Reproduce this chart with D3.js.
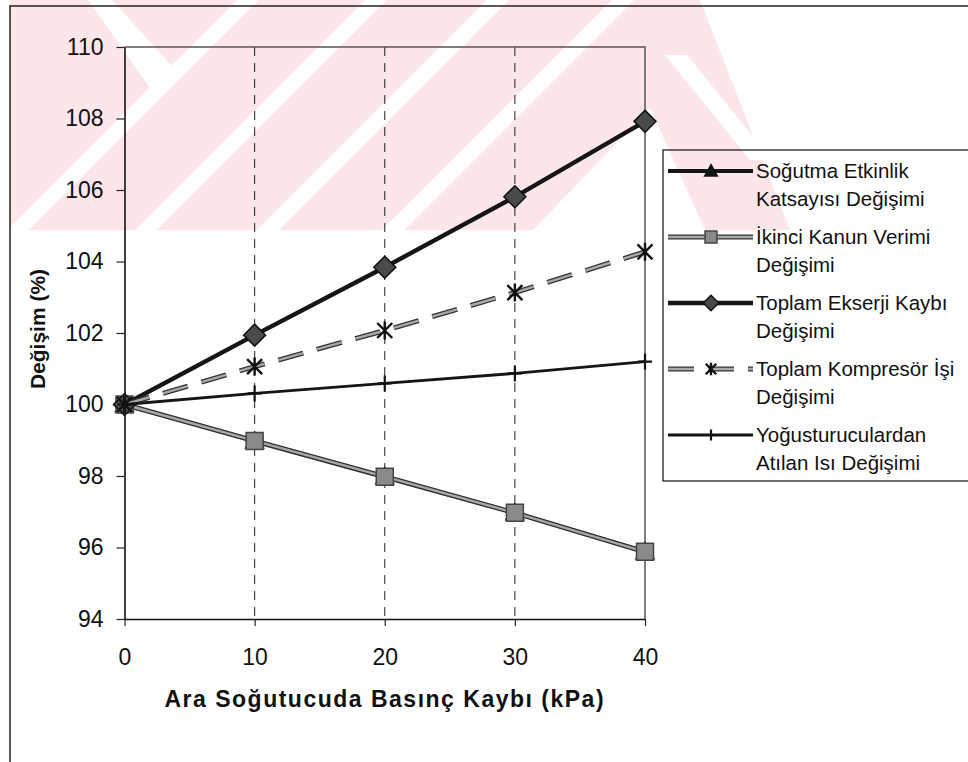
<!DOCTYPE html>
<html>
<head>
<meta charset="utf-8">
<script src="https://cdn.jsdelivr.net/npm/d3@7"></script>
<style>
  body { margin: 0; background: #fff; }
  svg { display: block; }
  text { font-family: "Liberation Sans", Arial, Helvetica, sans-serif; fill: #111; }
</style>
</head>
<body>
<svg id="chart" width="968" height="762"></svg>
<script>
// Intercooler pressure drop (kPa)
const pressureDrop = [0, 10, 20, 30, 40];

// Relative change of each quantity (%), 100 = no pressure drop
const sogutmaEtkinlik   = [100, 98.98, 97.98, 96.97, 95.88];
const ikinciKanunVerimi = [100, 98.98, 97.98, 96.97, 95.88];
const toplamEkserji     = [100, 101.94, 103.84, 105.81, 107.92];
const toplamKompresor   = [100, 101.06, 102.07, 103.13, 104.27];
const atilanIsi         = [100, 100.31, 100.59, 100.87, 101.2];

const legendLabels = [
  ["Soğutma Etkinlik", "Katsayısı Değişimi"],
  ["İkinci Kanun Verimi", "Değişimi"],
  ["Toplam Ekserji Kaybı", "Değişimi"],
  ["Toplam Kompresör İşi", "Değişimi"],
  ["Yoğusturuculardan", "Atılan Isı Değişimi"]
];

const yTicks = [94, 96, 98, 100, 102, 104, 106, 108, 110];
const xTicks = [0, 10, 20, 30, 40];

const svg = d3.select("#chart");
const W = 968, H = 762;

// ---- pale striped emblem in the background ----
const pink = "#fce6ea";
const defs = svg.append("defs");
defs.append("clipPath").attr("id", "wmclip")
  .append("rect").attr("x", 10).attr("y", 0).attr("width", W).attr("height", 230);
const wm = svg.append("g").attr("clip-path", "url(#wmclip)");
const poly = pts => pts.map(p => p.join(",")).join(" ");
wm.append("polygon").attr("points", poly([[10,230],[10,0],[700,0],[790,230]])).attr("fill", pink);
// white slanted gaps between the stripes
const gapW = 22;
[237, 365, 487, 612].forEach(t => {
  wm.append("polygon")
    .attr("points", poly([[t,0],[t+gapW,0],[t+gapW-230,230],[t-230,230]]))
    .attr("fill", "#fff");
});
// backslash gap on the left
wm.append("polygon").attr("points", poly([[88,0],[112,0],[172,66],[150,88]])).attr("fill", "#fff");
// open area on the lower right and a backslash gap
wm.append("polygon").attr("points", poly([[533,230],[650,108],[705,230]])).attr("fill", "#fff");
wm.append("polygon").attr("points", poly([[665,55],[687,55],[772,160],[750,160]])).attr("fill", "#fff");

// ---- outer chart frame ----
svg.append("rect")
  .attr("x", 10).attr("y", 6).attr("width", W + 40).attr("height", H + 40)
  .attr("fill", "none").attr("stroke", "#222").attr("stroke-width", 1.5);

// ---- scales ----
const x = d3.scaleLinear().domain([0, 40]).range([124.5, 645]);
const y = d3.scaleLinear().domain([94, 110]).range([619, 47]);

// vertical dashed gridlines
svg.append("g").selectAll("line")
  .data(xTicks.filter(d => d > 0 && d < 40))
  .join("line")
  .attr("x1", d => x(d)).attr("x2", d => x(d))
  .attr("y1", y(110)).attr("y2", y(94))
  .attr("stroke", "#333").attr("stroke-width", 1.1)
  .attr("stroke-dasharray", "9,7");

// plot area border (top and right)
svg.append("path")
  .attr("d", `M${x(0)},${y(110)}H${x(40)}V${y(94)}`)
  .attr("fill", "none").attr("stroke", "#555").attr("stroke-width", 1.5);

// ---- axes ----
const tickFont = 23;
const yAxis = svg.append("g")
  .attr("transform", `translate(${x(0)},0)`)
  .call(d3.axisLeft(y).tickValues(yTicks).tickSize(8).tickPadding(13).tickSizeOuter(0));
const xAxis = svg.append("g")
  .attr("transform", `translate(0,${y(94)})`)
  .call(d3.axisBottom(x).tickValues(xTicks).tickSize(7).tickPadding(23).tickSizeOuter(0));
[yAxis, xAxis].forEach(a => {
  a.attr("font-size", tickFont).attr("font-family", "Liberation Sans, Arial, sans-serif");
  a.select(".domain").attr("stroke", "#111").attr("stroke-width", 1.6);
  a.selectAll(".tick line").attr("stroke", "#222").attr("stroke-width", 1.2);
  a.selectAll(".tick text").attr("font-size", tickFont).attr("fill", "#111");
});

// axis titles
svg.append("text")
  .attr("transform", `translate(45,${(y(94) + y(110)) / 2 - 4}) rotate(-90)`)
  .attr("text-anchor", "middle")
  .attr("font-size", 21).attr("font-weight", "bold")
  .text("Değişim (%)");
svg.append("text")
  .attr("x", (x(0) + x(40)) / 2).attr("y", 707)
  .attr("text-anchor", "middle")
  .attr("font-size", 23).attr("font-weight", "bold")
  .attr("letter-spacing", 1.5)
  .text("Ara Soğutucuda Basınç Kaybı (kPa)");

// ---- marker shapes ----
const markerPaths = {
  triangle: "M0,-9L9,7L-9,7Z",
  square: "M-8.5,-8.5H8.5V8.5H-8.5Z",
  diamond: "M0,-11L11,0L0,11L-11,0Z",
  star: "M0,-9V9M-7.5,-7.5L7.5,7.5M-7.5,7.5L7.5,-7.5",
  plus: "M0,-8V8M-7,0H7"
};

// line style per series
const series = [
  { values: sogutmaEtkinlik, kind: "black", width: 4, marker: "triangle", fill: "#111", stroke: "#111" },
  { values: ikinciKanunVerimi, kind: "gray", marker: "square", fill: "#8a8a8a", stroke: "#444" },
  { values: toplamEkserji, kind: "black", width: 4.4, marker: "diamond", fill: "#4a4a4a", stroke: "#111" },
  { values: toplamKompresor, kind: "grayDash", marker: "star", fill: "none", stroke: "#111" },
  { values: atilanIsi, kind: "black", width: 2.8, marker: "plus", fill: "none", stroke: "#111" }
];

function strokeLine(g, d, s) {
  if (s.kind === "black") {
    g.append("path").attr("d", d).attr("fill", "none")
      .attr("stroke", "#151515").attr("stroke-width", s.width);
  } else {
    const dash = s.kind === "grayDash" ? "26,14" : null;
    g.append("path").attr("d", d).attr("fill", "none")
      .attr("stroke", "#333").attr("stroke-width", 5)
      .attr("stroke-dasharray", dash);
    g.append("path").attr("d", d).attr("fill", "none")
      .attr("stroke", "#a8a8a8").attr("stroke-width", 2.4)
      .attr("stroke-dasharray", dash);
  }
}

function drawMarker(g, cx, cy, s, k) {
  const p = g.append("path")
    .attr("d", markerPaths[s.marker])
    .attr("transform", `translate(${cx},${cy}) scale(${k})`);
  if (s.marker === "star" || s.marker === "plus") {
    p.attr("fill", "none").attr("stroke", "#111")
      .attr("stroke-width", (s.marker === "star" ? 2.4 : 2.2) / k);
  } else {
    p.attr("fill", s.fill).attr("stroke", s.stroke).attr("stroke-width", 1.5 / k);
  }
}

const line = d3.line().x((d, i) => x(pressureDrop[i])).y(d => y(d));
const plotG = svg.append("g");
series.forEach(s => {
  const g = plotG.append("g");
  strokeLine(g, line(s.values), s);
  s.values.forEach((v, i) => drawMarker(g, x(pressureDrop[i]), y(v), s, 1));
});

// ---- legend ----
const lg = svg.append("g");
lg.append("rect")
  .attr("x", 663).attr("y", 150).attr("width", 340).attr("height", 331)
  .attr("fill", "none").attr("stroke", "#222").attr("stroke-width", 1.3);
const rowY = [171, 237, 303, 369, 435];
series.forEach((s, i) => {
  const g = lg.append("g");
  const yy = rowY[i];
  strokeLine(g, `M668,${yy}H753`, s);
  drawMarker(g, 711, yy, s, 0.7);
  legendLabels[i].forEach((t, j) => {
    g.append("text")
      .attr("x", 756).attr("y", yy + 7 + j * 28)
      .attr("font-size", 20.5)
      .text(t);
  });
});
</script>
</body>
</html>
